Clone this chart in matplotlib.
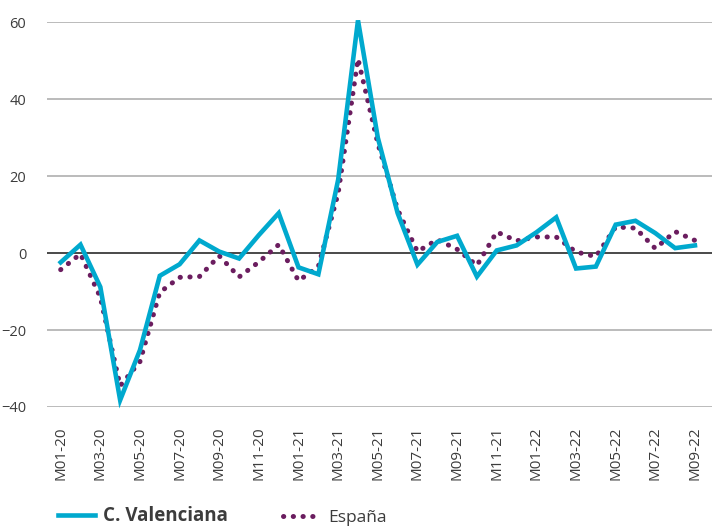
import matplotlib.pyplot as plt
import numpy as np

plt.rcParams['font.family'] = ['Open Sans', 'DejaVu Sans']
plt.rcParams['axes.unicode_minus'] = True

months = [f"M{m:02d}-{y}" for y in (20, 21, 22) for m in range(1, 13)][:33]

valenciana = [-2.4, 2.2, -8.8, -38.2, -25.2, -5.9, -2.9, 3.3, 0.4, -1.4, 4.7, 10.4,
              -3.7, -5.5, 19.1, 60.5, 30.0, 10.4, -3.0, 2.9, 4.5, -6.1, 0.7, 2.0,
              5.4, 9.3, -4.0, -3.5, 7.4, 8.4, 5.2, 1.3, 2.0]
espana = [-4.3, -0.2, -11.5, -34.5, -28.2, -10.2, -6.3, -6.1, -0.7, -6.2, -2.3, 2.2,
          -7.2, -3.5, 15.6, 50.5, 28.5, 11.3, 0.4, 3.5, 1.0, -3.2, 5.5, 3.2,
          4.2, 4.2, 0.3, -0.9, 6.8, 6.5, 1.2, 5.6, 3.3]

cyan = "#00a9ce"
purple = "#6b1d5f"
grey_txt = "#3c3c3c"

fig = plt.figure(figsize=(7.12, 5.27), dpi=100)
ax = fig.add_axes([47/712, 1 - 407/527, 665/712, (407 - 22.3)/527])

x = np.arange(len(months))
ln_es, = ax.plot(x, espana, color=purple, linewidth=3.6, linestyle=(0, (0.05, 1.9)),
                 dash_capstyle='round', label="España", clip_on=False, zorder=3)
ln_cv, = ax.plot(x, valenciana, color=cyan, linewidth=3.3, solid_joinstyle='miter',
                 label="C. Valenciana", clip_on=False, zorder=4)

ax.set_ylim(-40, 60)
ax.set_xlim(-0.69, 32.86)
ax.set_yticks([-40, -20, 0, 20, 40, 60])
for v in [-40, -20, 20, 40, 60]:
    ax.axhline(v, color="#a8a8a8", linewidth=1.1, zorder=1)
ax.axhline(0, color="#3a3a3a", linewidth=1.3, zorder=2)

ax.set_xticks(x[::2])
ax.set_xticklabels(months[::2], rotation=90, fontsize=11, color=grey_txt)
ax.tick_params(axis='x', length=0, pad=14)
ax.tick_params(axis='y', length=0, pad=15, labelsize=10.5, labelcolor=grey_txt)
for s in ax.spines.values():
    s.set_visible(False)

# legend: two separate entries placed like the original
leg1 = fig.legend([ln_cv], ["C. Valenciana"], loc='lower left', bbox_to_anchor=(0.058, -0.031),
                  frameon=False, fontsize=13.5, handlelength=1.95, handletextpad=0.45)
leg1.get_texts()[0].set_fontweight('bold')
leg2 = fig.legend([ln_es], ["España"], loc='lower left', bbox_to_anchor=(0.376, -0.028),
                  frameon=False, fontsize=12.5, handlelength=2.1, handletextpad=0.5)
for lg in (leg1, leg2):
    for t in lg.get_texts():
        t.set_color(grey_txt)

fig.savefig("out.png", dpi=100)
